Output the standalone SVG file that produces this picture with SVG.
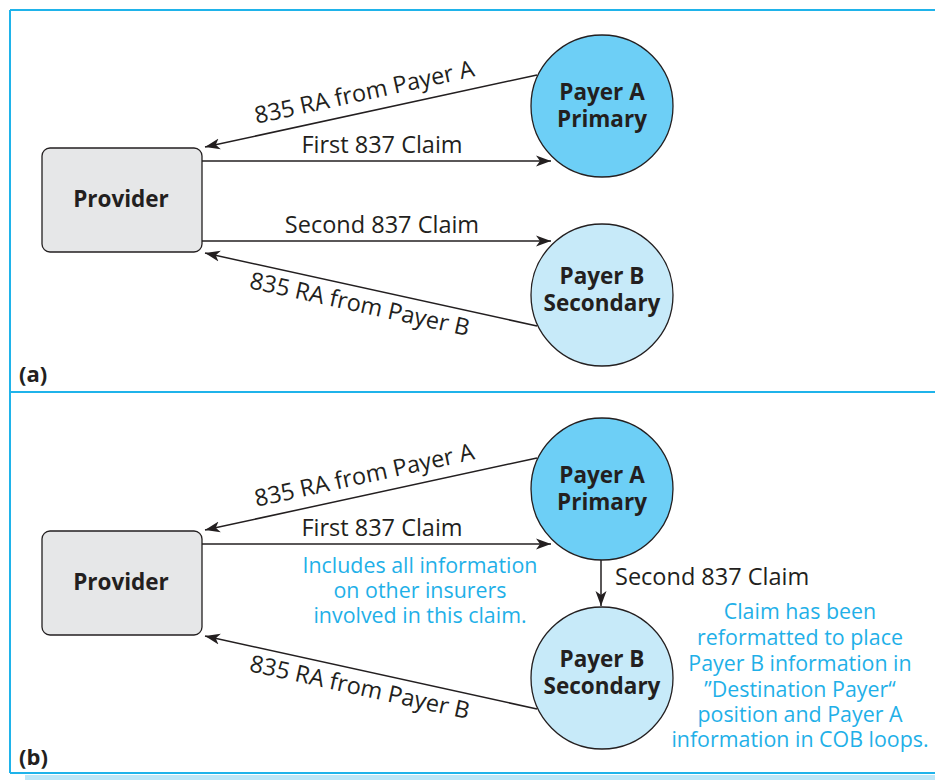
<svg xmlns="http://www.w3.org/2000/svg" width="935" height="780" viewBox="0 0 935 780">
<defs>
<marker id="ah" markerUnits="userSpaceOnUse" markerWidth="16" markerHeight="12" refX="15" refY="6" orient="auto">
<path d="M0,0.5 L15,6 L0,11.5 L4,6 Z" fill="#231f20"/>
</marker>
</defs>
<style>
.frame{stroke:#1fb3ea;stroke-width:2;fill:none}
.prov{fill:#e6e7e8;stroke:#231f20;stroke-width:1.3}
.pa{fill:#6dcff6;stroke:#231f20;stroke-width:1.3}
.pb{fill:#c7eaf9;stroke:#231f20;stroke-width:1.3}
.conn{stroke:#231f20;stroke-width:1.5;fill:none;marker-end:url(#ah)}
.lbl{font-family:"Open Sans","Noto Sans",sans-serif;font-size:23.5px;fill:#231f20}
.nb{font-family:"Open Sans","Noto Sans",sans-serif;font-size:22.5px;font-weight:bold;fill:#231f20;text-anchor:middle}
.note{font-family:"Open Sans","Noto Sans",sans-serif;font-size:21.4px;fill:#1fb0e8;text-anchor:middle}
.tag{font-family:"Open Sans","Noto Sans",sans-serif;font-size:22px;font-weight:bold;fill:#231f20}
</style>
<rect x="0" y="0" width="935" height="780" fill="#ffffff"/>
<g id="frame">
<path class="frame" d="M10,10 H935 M10,10 V773 M10,392 H935 M10,773 H935"/>
<rect x="25" y="775" width="910" height="5" fill="#bde6f7"/>
</g>
<g id="panel-a">
<g id="connectors-a">
<line class="conn" x1="537" y1="75" x2="205" y2="147"/>
<line class="conn" x1="202" y1="161" x2="551" y2="161"/>
<line class="conn" x1="202" y1="241" x2="551" y2="241"/>
<line class="conn" x1="537" y1="326" x2="205" y2="253"/>
<text class="lbl" text-anchor="middle" transform="translate(366,100) rotate(-12.3)">835 RA from Payer A</text>
<text class="lbl" text-anchor="middle" x="382" y="153">First 837 Claim</text>
<text class="lbl" text-anchor="middle" x="382" y="233">Second 837 Claim</text>
<text class="lbl" text-anchor="middle" transform="translate(358,312) rotate(12.4)">835 RA from Payer B</text>
</g>
<g id="provider-a">
<rect class="prov" x="42" y="148" width="160" height="104" rx="8"/>
<text class="nb" x="121" y="207">Provider</text>
</g>
<g id="payerA-a">
<circle class="pa" cx="602" cy="106" r="71"/>
<text class="nb" x="602" y="100">Payer A<tspan x="602" dy="27">Primary</tspan></text>
</g>
<g id="payerB-a">
<circle class="pb" cx="602" cy="295" r="71"/>
<text class="nb" x="602" y="284">Payer B<tspan x="602" dy="27">Secondary</tspan></text>
</g>
<text class="tag" x="19" y="382">(a)</text>
</g>
<g id="panel-b">
<g id="connectors-b">
<line class="conn" x1="537" y1="458" x2="205" y2="530"/>
<line class="conn" x1="202" y1="544" x2="551" y2="544"/>
<line class="conn" x1="601" y1="559" x2="601" y2="606"/>
<line class="conn" x1="537" y1="709" x2="205" y2="636"/>
<text class="lbl" text-anchor="middle" transform="translate(366,483) rotate(-12.3)">835 RA from Payer A</text>
<text class="lbl" text-anchor="middle" x="382" y="536">First 837 Claim</text>
<text class="lbl" x="615" y="585">Second 837 Claim</text>
<text class="lbl" text-anchor="middle" transform="translate(358,695) rotate(12.4)">835 RA from Payer B</text>
</g>
<g id="provider-b">
<rect class="prov" x="42" y="531" width="160" height="104" rx="8"/>
<text class="nb" x="121" y="590">Provider</text>
</g>
<g id="payerA-b">
<circle class="pa" cx="602" cy="489" r="71"/>
<text class="nb" x="602" y="483">Payer A<tspan x="602" dy="27">Primary</tspan></text>
</g>
<g id="payerB-b">
<circle class="pb" cx="602" cy="678" r="71"/>
<text class="nb" x="602" y="667">Payer B<tspan x="602" dy="27">Secondary</tspan></text>
</g>
<g id="note-includes">
<text class="note" x="420" y="573">Includes all information<tspan x="420" dy="25">on other insurers</tspan><tspan x="420" dy="25">involved in this claim.</tspan></text>
</g>
<g id="note-reformatted">
<text class="note" x="800" y="619">Claim has been<tspan x="800" dy="26">reformatted to place</tspan><tspan x="800" dy="26">Payer B information in</tspan><tspan x="800" dy="26">”Destination Payer“</tspan><tspan x="800" dy="25">position and Payer A</tspan><tspan x="800" dy="25">information in COB loops.</tspan></text>
</g>
<text class="tag" x="19" y="765">(b)</text>
</g>
</svg>
